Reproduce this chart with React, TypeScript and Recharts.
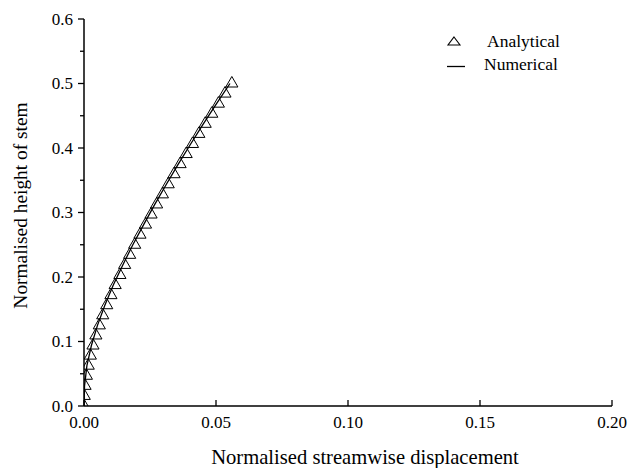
import React from 'react';
import { ScatterChart, Scatter, XAxis, YAxis, Legend } from 'recharts';

const xTicks = [0, 0.05, 0.1, 0.15, 0.2];
const yTicks = [0, 0.05, 0.1, 0.15, 0.2, 0.25, 0.3, 0.35, 0.4, 0.45, 0.5, 0.55, 0.6];

// analytical solution (triangles)
const analyticalY = [
  0, 0.015625, 0.03125, 0.046875, 0.0625, 0.078125, 0.09375, 0.109375, 0.125, 0.140625,
  0.15625, 0.171875, 0.1875, 0.203125, 0.21875, 0.234375, 0.25, 0.265625, 0.28125, 0.296875,
  0.3125, 0.328125, 0.34375, 0.359375, 0.375, 0.390625, 0.40625, 0.421875, 0.4375, 0.453125,
  0.46875, 0.484375, 0.5,
];
const analyticalX = [
  0, 0.0001, 0.0004, 0.0009, 0.0016, 0.0024, 0.0034, 0.0045, 0.0058, 0.0071,
  0.0086, 0.0102, 0.0118, 0.0136, 0.0154, 0.0173, 0.0192, 0.0212, 0.0233, 0.0254,
  0.0275, 0.0297, 0.0319, 0.0341, 0.0364, 0.0387, 0.0411, 0.0435, 0.0459, 0.0484,
  0.0509, 0.0534, 0.056,
];

// numerical solution (solid line)
const numericalY = [
  0, 0.03125, 0.0625, 0.09375, 0.125, 0.15625, 0.1875, 0.21875, 0.25,
  0.28125, 0.3125, 0.34375, 0.375, 0.40625, 0.4375, 0.46875, 0.5,
];
const numericalX = [
  0, 0.0002, 0.0011, 0.0028, 0.0051, 0.0079, 0.0111, 0.0147, 0.0185,
  0.0226, 0.0268, 0.0312, 0.0357, 0.0404, 0.0452, 0.0502, 0.0553,
];

const analytical = analyticalX.map((x, i) => ({ x, y: analyticalY[i] }));
const numerical = numericalX.map((x, i) => ({ x, y: numericalY[i] }));

const serif = { fontFamily: '"Liberation Serif", serif' };

const XTick = (props: any) => {
  const { x, y, payload } = props;
  return (
    <g>
      <line x1={x} y1={y} x2={x} y2={y - 6} stroke="#000" strokeWidth={1.3} />
      <text x={x} y={y + 22} textAnchor="middle" style={serif} fontSize={17} fill="#000">
        {payload.value.toFixed(2)}
      </text>
    </g>
  );
};

const YTick = (props: any) => {
  const { x, y, payload } = props;
  const major = Math.round(payload.value * 100) % 10 === 0;
  return (
    <g>
      <line x1={x - (major ? 6 : 4)} y1={y} x2={x} y2={y} stroke="#000" strokeWidth={1.3} />
      {major && (
        <text x={x - 11} y={y} dy="0.35em" textAnchor="end" style={serif} fontSize={17} fill="#000">
          {payload.value.toFixed(1)}
        </text>
      )}
    </g>
  );
};

const YTitle = (props: any) => {
  const { viewBox } = props;
  const cx = viewBox.x + viewBox.width - 64;
  const cy = viewBox.y + viewBox.height / 2 - 7;
  return (
    <text x={cx} y={cy} transform={`rotate(-90, ${cx}, ${cy})`} textAnchor="middle" dominantBaseline="central"
      style={serif} fontSize={19.4} fill="#000">
      Normalised height of stem
    </text>
  );
};

const XTitle = (props: any) => {
  const { viewBox } = props;
  const cx = viewBox.x + viewBox.width / 2 + 17;
  const cy = viewBox.y + 51;
  return (
    <text x={cx} y={cy} textAnchor="middle" dominantBaseline="central" style={serif} fontSize={20.6} fill="#000">
      Normalised streamwise displacement
    </text>
  );
};

const LegendBox = () => (
  <svg width={160} height={50} style={{ overflow: 'visible', display: 'block' }}>
    <path d="M14,6 L20,14 L8,14 Z" fill="none" stroke="#000" strokeWidth={1.1} />
    <text x={47} y={10} dy="0.35em" style={serif} fontSize={17.5} fill="#000">Analytical</text>
    <line x1={7} y1={35.5} x2={25} y2={35.5} stroke="#000" strokeWidth={1.3} />
    <text x={44} y={32.5} dy="0.35em" style={serif} fontSize={17.5} fill="#000">Numerical</text>
  </svg>
);

const Empty = () => <g />;

export default function App() {
  return (
    <div style={{ position: 'absolute', left: 0, top: 0, width: 632, height: 468, background: '#fff' }}>
      <ScatterChart width={632} height={468} margin={{ top: 19, right: 20, bottom: 0, left: 0 }}>
        <XAxis
          type="number"
          dataKey="x"
          domain={[0, 0.2]}
          ticks={xTicks}
          height={62}
          tickLine={false}
          tickSize={0}
          tickMargin={0}
          tick={<XTick />}
          axisLine={{ stroke: '#000', strokeWidth: 1.5 }}
          label={<XTitle />}
          allowDataOverflow
        />
        <YAxis
          type="number"
          dataKey="y"
          domain={[0, 0.6]}
          ticks={yTicks}
          width={84}
          tickLine={false}
          tickSize={0}
          tickMargin={0}
          tick={<YTick />}
          axisLine={{ stroke: '#000', strokeWidth: 1.5 }}
          label={<YTitle />}
          interval={0}
          allowDataOverflow
        />
        <Legend
          content={<LegendBox />}
          layout="vertical"
          verticalAlign="middle"
          align="center"
          wrapperStyle={{ left: 440, top: 31, width: 160, height: 50 }}
        />
        <Scatter
          name="Numerical"
          data={numerical}
          line={{ stroke: '#000', strokeWidth: 1.3 }}
          shape={<Empty />}
          isAnimationActive={false}
        />
        <Scatter
          name="Analytical"
          data={analytical}
          shape="triangle"
          legendType="triangle"
          fill="none"
          stroke="#000"
          strokeWidth={1}
          size={34}
          isAnimationActive={false}
        />
      </ScatterChart>
    </div>
  );
}
